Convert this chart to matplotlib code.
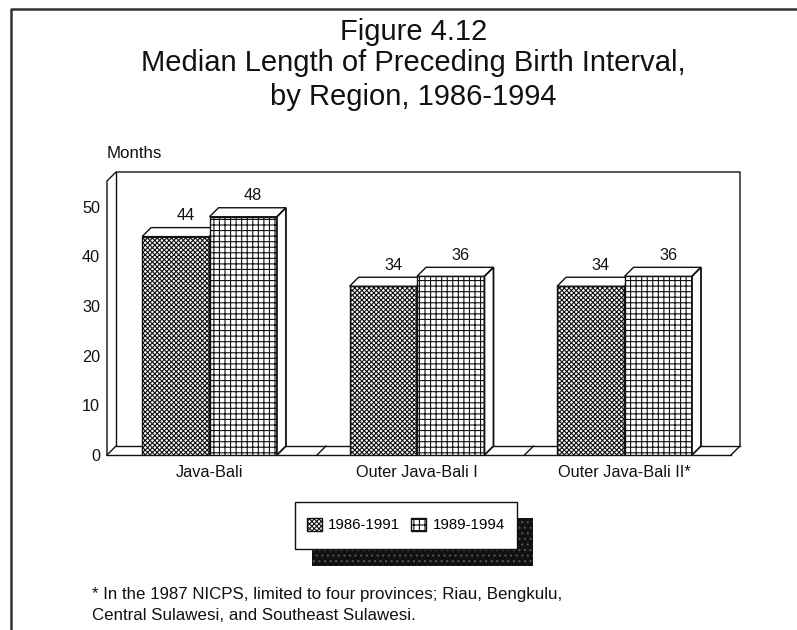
import matplotlib
matplotlib.use('Agg')
import matplotlib.pyplot as plt
from matplotlib.patches import Polygon, Rectangle, Patch
from matplotlib.lines import Line2D

plt.rcParams['font.family'] = ['Liberation Sans', 'DejaVu Sans']
plt.rcParams['hatch.linewidth'] = 0.8

regions = ['Java-Bali', 'Outer Java-Bali I', 'Outer Java-Bali II*']
period_a = [44, 34, 34]
period_b = [48, 36, 36]
period_names = ['1986-1991', '1989-1994']
y_ticks = [0, 10, 20, 30, 40, 50]

W, H = 797, 630
fig = plt.figure(figsize=(W / 100, H / 100), dpi=100)
ax = fig.add_axes([107 / W, (H - 455) / H, 624 / W, 274 / H])

bar_w = 0.325
dx = 0.0434
dy = 1.81
ax.set_xlim(-0.494, 2.513)
ax.set_ylim(0, 55.2)
xmin, xmax = ax.get_xlim()
ymin, ymax = ax.get_ylim()

line = dict(color='#111111', lw=1.0, clip_on=False, zorder=1)

# back wall, left wall and floor
ax.plot([xmin, xmin, xmin + dx, xmax + dx, xmax + dx, xmax], [ymin, ymax, ymax + dy, ymax + dy, ymin + dy, ymin], **line)
ax.plot([xmin, xmax], [ymin, ymin], **line)
ax.plot([xmin + dx, xmin + dx, xmax + dx], [ymax + dy, ymin + dy, ymin + dy], **line)
ax.plot([xmin, xmin + dx], [ymin, ymin + dy], **line)
for i in range(2):
    ax.plot([i + 0.518, i + 0.518 + dx], [ymin, ymin + dy], **line)


def draw_bars(lefts, values, hatch, z):
    ax.bar(lefts, values, width=bar_w, align='edge', facecolor='white', edgecolor='#111111',
           hatch=hatch, lw=1.0, zorder=z)
    for x, v in zip(lefts, values):
        top = [(x, v), (x + dx, v + dy), (x + bar_w + dx, v + dy), (x + bar_w, v)]
        side = [(x + bar_w, 0), (x + bar_w + dx, dy), (x + bar_w + dx, v + dy), (x + bar_w, v)]
        ax.add_patch(Polygon(top, closed=True, facecolor='white', edgecolor='#111111', lw=1.0, zorder=z, clip_on=False))
        ax.add_patch(Polygon(side, closed=True, facecolor='white', edgecolor='#111111', lw=1.3, zorder=z, clip_on=False))
        ax.annotate(str(v), (x + bar_w / 2 + dx, v + dy), xytext=(1, 12), textcoords='offset pixels',
                    ha='center', va='center', fontsize=11.7, color='#111111', zorder=5)


group_pos = list(range(len(regions)))
draw_bars([p - bar_w for p in group_pos], period_a, 'xxxxxxx', 3)
draw_bars(group_pos, period_b, '+++', 4)

ax.set_xticks(group_pos)
ax.set_xticklabels(regions, fontsize=11.7, color='#111111')
ax.set_yticks(y_ticks)
ax.set_yticklabels([str(t) for t in y_ticks], fontsize=11.7, color='#111111')
ax.tick_params(length=0, pad=5)
ax.tick_params(axis='x', pad=7)
for s in ax.spines.values():
    s.set_visible(False)
ax.patch.set_visible(False)

# title
title_lines = ['Figure 4.12', 'Median Length of Preceding Birth Interval,', 'by Region, 1986-1994']
for txt, py in zip(title_lines, [32, 63, 97]):
    fig.text(413.5 / W, 1 - py / H, txt, ha='center', va='center', fontsize=21, color='#111111')
fig.text(107 / W, 1 - 153 / H, 'Months', ha='left', va='center', fontsize=12.2, color='#111111')

# page frame
fig.add_artist(Line2D([10.5 / W, 10.5 / W, 1], [0, 1 - 9 / H, 1 - 9 / H], color='#333333', lw=1.8))

# legend box with drop shadow
fig.add_artist(Rectangle((312 / W, 1 - 566 / H), 221 / W, 48 / H, transform=fig.transFigure,
                         facecolor='#111111', edgecolor='#555555', hatch='...', lw=0, zorder=2))
fig.add_artist(Rectangle((295 / W, 1 - 549 / H), 222 / W, 47 / H, transform=fig.transFigure,
                         facecolor='white', edgecolor='#111111', lw=1.0, zorder=3))
handles = [Patch(facecolor='white', edgecolor='#111111', hatch='xxxxxxx'),
           Patch(facecolor='white', edgecolor='#111111', hatch='+++')]
leg = fig.legend(handles, period_names, loc='center', bbox_to_anchor=(406 / W, 1 - 525 / H), ncol=2,
                 fontsize=10.8, frameon=False, handlelength=1.0, handleheight=1.0, handletextpad=0.4,
                 columnspacing=0.73, borderpad=0)
leg.set_zorder(4)

# footnote
fig.text(92 / W, 1 - 599.5 / H, '* In the 1987 NICPS, limited to four provinces; Riau, Bengkulu,',
         ha='left', va='baseline', fontsize=12.2, color='#111111')
fig.text(92 / W, 1 - 620 / H, 'Central Sulawesi, and Southeast Sulawesi.',
         ha='left', va='baseline', fontsize=12.2, color='#111111')

fig.savefig('out.png', dpi=100)
